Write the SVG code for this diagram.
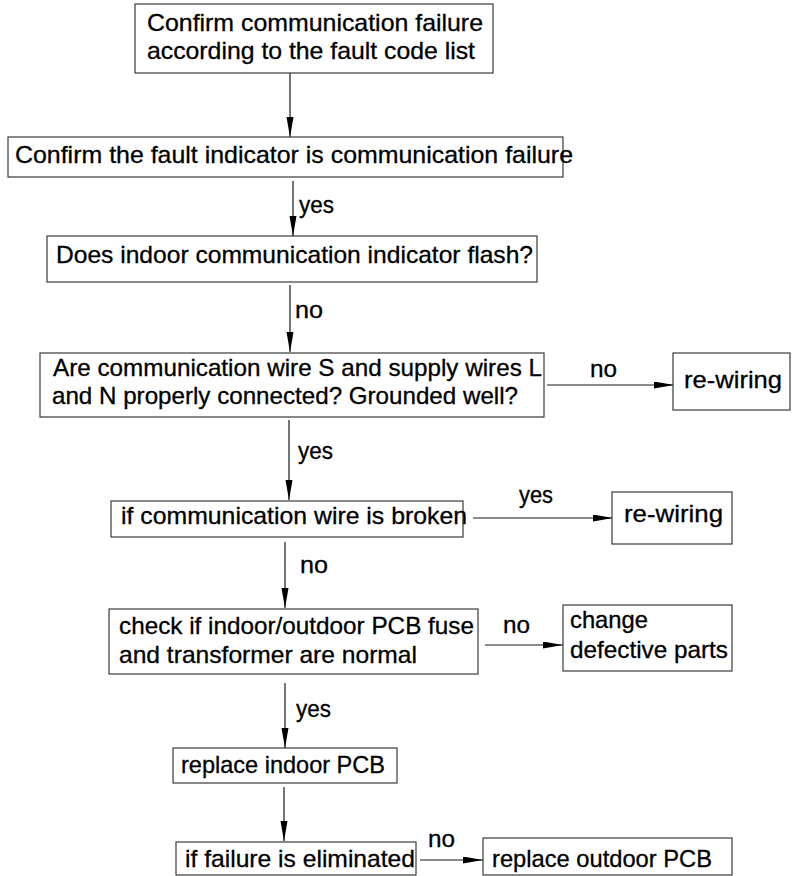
<svg xmlns="http://www.w3.org/2000/svg" width="792" height="876" viewBox="0 0 792 876">
  <style>
    .box { fill: #ffffff; stroke: #3a3a3a; stroke-width: 1.2; }
    .t { font-family: "Liberation Sans", Arial, sans-serif; font-size: 24px; fill: #000; stroke: #000; stroke-width: 0.3; }
    .link { stroke: #1a1a1a; stroke-width: 1.2; fill: none; marker-end: url(#arrow); }
  </style>
  <defs>
    <marker id="arrow" markerUnits="userSpaceOnUse" markerWidth="20" markerHeight="8" refX="20" refY="3.5" orient="auto">
      <path d="M0,0 L20,3.5 L0,7 Z" fill="#000"/>
    </marker>
  </defs>
  <rect width="792" height="876" fill="#ffffff"/>

  <!-- connectors -->
  <g id="connectors">
    <line class="link" x1="290" y1="73" x2="290" y2="137"/>
    <line class="link" x1="293" y1="181" x2="293" y2="236"/>
    <text class="t" x="299" y="213" textLength="35" lengthAdjust="spacingAndGlyphs">yes</text>
    <line class="link" x1="290" y1="285" x2="290" y2="352"/>
    <text class="t" x="295" y="318" textLength="28" lengthAdjust="spacingAndGlyphs">no</text>
    <line class="link" x1="547" y1="385" x2="674" y2="385"/>
    <text class="t" x="590" y="377" textLength="27" lengthAdjust="spacingAndGlyphs">no</text>
    <line class="link" x1="289" y1="420" x2="289" y2="500"/>
    <text class="t" x="298" y="459" textLength="35" lengthAdjust="spacingAndGlyphs">yes</text>
    <line class="link" x1="473" y1="518" x2="613" y2="518"/>
    <text class="t" x="519" y="503" textLength="34" lengthAdjust="spacingAndGlyphs">yes</text>
    <line class="link" x1="285" y1="542" x2="285" y2="608"/>
    <text class="t" x="300" y="573" textLength="28" lengthAdjust="spacingAndGlyphs">no</text>
    <line class="link" x1="485" y1="645" x2="563" y2="645"/>
    <text class="t" x="503" y="633" textLength="27" lengthAdjust="spacingAndGlyphs">no</text>
    <line class="link" x1="285" y1="683" x2="285" y2="748"/>
    <text class="t" x="296" y="717" textLength="35" lengthAdjust="spacingAndGlyphs">yes</text>
    <line class="link" x1="284" y1="787" x2="284" y2="841"/>
    <line class="link" x1="420" y1="860" x2="483" y2="860"/>
    <text class="t" x="428" y="847" textLength="27" lengthAdjust="spacingAndGlyphs">no</text>
  </g>

  <g id="confirm-code">
    <rect class="box" x="135" y="4" width="358" height="69"/>
    <text class="t" x="147" y="31" textLength="336" lengthAdjust="spacingAndGlyphs">Confirm communication failure</text>
    <text class="t" x="147" y="59" textLength="328" lengthAdjust="spacingAndGlyphs">according to the fault code list</text>
  </g>

  <g id="confirm-indicator">
    <rect class="box" x="8" y="137" width="555" height="40"/>
    <text class="t" x="15" y="163" textLength="558" lengthAdjust="spacingAndGlyphs">Confirm the fault indicator is communication failure</text>
  </g>

  <g id="indicator-flash">
    <rect class="box" x="47" y="236" width="490" height="46"/>
    <text class="t" x="56" y="263" textLength="477" lengthAdjust="spacingAndGlyphs">Does indoor communication indicator flash?</text>
  </g>

  <g id="wiring-check">
    <rect class="box" x="40" y="353" width="504" height="64"/>
    <text class="t" x="53" y="376" textLength="489" lengthAdjust="spacingAndGlyphs">Are communication wire S and supply wires L</text>
    <text class="t" x="52" y="404" textLength="466" lengthAdjust="spacingAndGlyphs">and N properly connected? Grounded well?</text>
  </g>

  <g id="rewiring-1">
    <rect class="box" x="673" y="353" width="117" height="57"/>
    <text class="t" x="684" y="388" textLength="98" lengthAdjust="spacingAndGlyphs">re-wiring</text>
  </g>

  <g id="wire-broken">
    <rect class="box" x="111" y="501" width="352" height="36"/>
    <text class="t" x="121" y="524" textLength="346" lengthAdjust="spacingAndGlyphs">if communication wire is broken</text>
  </g>

  <g id="rewiring-2">
    <rect class="box" x="612" y="492" width="120" height="52"/>
    <text class="t" x="624" y="522" textLength="99" lengthAdjust="spacingAndGlyphs">re-wiring</text>
  </g>

  <g id="fuse-check">
    <rect class="box" x="109" y="609" width="369" height="65"/>
    <text class="t" x="119" y="634" textLength="355" lengthAdjust="spacingAndGlyphs">check if indoor/outdoor PCB fuse</text>
    <text class="t" x="119" y="663" textLength="298" lengthAdjust="spacingAndGlyphs">and transformer are normal</text>
  </g>

  <g id="change-parts">
    <rect class="box" x="563" y="605" width="169" height="66"/>
    <text class="t" x="570" y="628" textLength="78" lengthAdjust="spacingAndGlyphs">change</text>
    <text class="t" x="570" y="658" textLength="158" lengthAdjust="spacingAndGlyphs">defective parts</text>
  </g>

  <g id="replace-indoor">
    <rect class="box" x="173" y="748" width="224" height="35"/>
    <text class="t" x="181" y="773" textLength="204" lengthAdjust="spacingAndGlyphs">replace indoor PCB</text>
  </g>

  <g id="failure-eliminated">
    <rect class="box" x="176" y="842" width="240" height="33"/>
    <text class="t" x="185" y="867" textLength="230" lengthAdjust="spacingAndGlyphs">if failure is eliminated</text>
  </g>

  <g id="replace-outdoor">
    <rect class="box" x="483" y="838" width="249" height="37"/>
    <text class="t" x="492" y="867" textLength="220" lengthAdjust="spacingAndGlyphs">replace outdoor PCB</text>
  </g>
</svg>
